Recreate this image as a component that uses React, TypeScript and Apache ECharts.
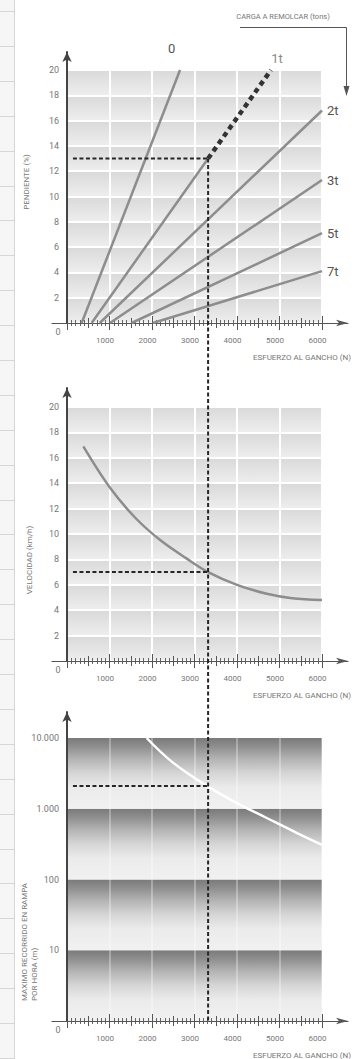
import React, { useEffect, useRef } from "react";
import * as echarts from "echarts";

// ---------- data ----------
const forceMax = 6000;
const gradeTicksMax = 20;
const speedTicksMax = 20;
const loadNames = ["0", "1t", "2t", "3t", "5t", "7t"];
const loadStartN = [345, 580, 770, 1010, 1520, 2020];
const loadEndN = [2660, 3320, 6000, 6000, 6000, 6000];
const loadEndGrade = [20, 13, 16.8, 11.3, 7.1, 4.1];
const ext1tN = [3320, 4800];
const ext1tGrade = [13, 20];
const speedN = [384, 1000, 1600, 2200, 2800, 3320, 4000, 4700, 5300, 6000];
const speedKmh = [16.9, 13.7, 11.3, 9.5, 8.1, 7.0, 6.0, 5.3, 4.95, 4.8];
const distN = [1875, 2500, 3300, 4000, 4700, 5400, 6000];
const distM = [10000, 4450, 2090, 1200, 740, 457, 309];
const distDecades = [1, 10, 100, 1000, 10000];
const crossStartN = 140;
const crossN = 3320;
const crossGrade = 13;
const crossSpeed = 7;
const crossDist = 2100;

// ---------- layout ----------
const W = 362;
const H = 1059;
const PLOT_LEFT = 67;
const PLOT_RIGHT = 322;
const FRAME_LEFT = 52;
const FRAME_RIGHT = 348;
const PX_PER_N = (PLOT_RIGHT - PLOT_LEFT) / forceMax;
const charts = [
  { plotTop: 70, plotBottom: 323, frameTop: 52 },
  { plotTop: 407, plotBottom: 661, frameTop: 388 },
  { plotTop: 738, plotBottom: 1021, frameTop: 712 },
];

const FONT = "Roboto";
const TXT = "#777";
const LINE_GRAY = "#8d8d8d";
const DARK = "#262626";

function fmtDist(v: number) {
  if (v === 1) return "";
  return String(v).replace(/\B(?=(\d{3})+(?!\d))/g, ".");
}

export default function App() {
  const ref = useRef<HTMLDivElement>(null);
  useEffect(() => {
    if (!ref.current) return;
    const chart = echarts.init(ref.current, undefined, { renderer: "svg" });

    const grid: any[] = [];
    const xAxis: any[] = [];
    const yAxis: any[] = [];
    charts.forEach((c, i) => {
      grid.push({
        left: PLOT_LEFT,
        width: PLOT_RIGHT - PLOT_LEFT,
        top: c.plotTop,
        height: c.plotBottom - c.plotTop,
        containLabel: false,
      });
      grid.push({
        left: FRAME_LEFT,
        width: FRAME_RIGHT - FRAME_LEFT,
        top: c.frameTop,
        height: c.plotBottom - c.frameTop,
        containLabel: false,
      });
      const pg = 2 * i;
      const fg = 2 * i + 1;
      const isLog = i === 2;
      const tickAxis = (interval: number, inside: boolean, len: number, minor: boolean, main: boolean) => ({
        type: "value",
        gridIndex: pg,
        position: "bottom",
        min: 0,
        max: forceMax,
        interval,
        z: 3,
        axisLine: { show: false },
        axisTick: { show: true, inside, length: len, lineStyle: { color: "#555", width: 1 } },
        minorTick: { show: minor, splitNumber: 10, length: 3, lineStyle: { color: "#666", width: 1 } },
        axisLabel: main
          ? {
              show: true,
              margin: 13,
              fontSize: 8,
              color: TXT,
              fontFamily: FONT,
              padding: [0, 9, 0, 0],
              formatter: (v: number) => (v === 0 ? "" : String(v)),
            }
          : { show: false },
        splitLine: main
          ? { show: true, lineStyle: { color: isLog ? "rgba(255,255,255,0.3)" : "#ffffff", width: 2 } }
          : { show: false },
      });
      xAxis.push(tickAxis(1000, false, 7, true, true));
      xAxis.push(tickAxis(1000, true, 7, true, false));
      xAxis.push(tickAxis(500, false, 5, false, false));
      xAxis.push(tickAxis(500, true, 5, false, false));
      xAxis.push({
        type: "value",
        gridIndex: fg,
        min: -(PLOT_LEFT - FRAME_LEFT) / PX_PER_N,
        max: (FRAME_RIGHT - PLOT_LEFT) / PX_PER_N,
        z: 4,
        axisLine: {
          show: true,
          onZero: true,
          symbol: ["none", "arrow"],
          symbolSize: [5, 12],
          lineStyle: { color: "#555", width: 1.2 },
        },
        axisTick: { show: false },
        axisLabel: { show: false },
        splitLine: { show: false },
      });
      if (isLog) {
        yAxis.push({
          type: "log",
          logBase: 10,
          gridIndex: pg,
          min: 1,
          max: 10000,
          z: 3,
          axisLine: { show: false },
          axisTick: { show: false },
          splitLine: { show: false },
          axisLabel: { fontSize: 9, color: TXT, fontFamily: FONT, margin: 8, formatter: fmtDist },
        });
      } else {
        yAxis.push({
          type: "value",
          gridIndex: pg,
          min: 0,
          max: i === 0 ? gradeTicksMax : speedTicksMax,
          interval: 2,
          z: 3,
          axisLine: { show: false },
          axisTick: { show: false },
          splitLine: { show: true, lineStyle: { color: "#ffffff", width: 2 } },
          axisLabel: {
            fontSize: 9,
            color: TXT,
            fontFamily: FONT,
            margin: 8,
            formatter: (v: number) => (v === 0 ? "" : String(v)),
          },
        });
      }
      yAxis.push({
        type: "value",
        gridIndex: fg,
        min: 0,
        max: 1,
        z: 4,
        axisLine: {
          show: true,
          onZero: true,
          onZeroAxisIndex: 5 * i + 4,
          symbol: ["none", "arrow"],
          symbolSize: [7, 10],
          lineStyle: { color: "#444", width: 2 },
        },
        axisTick: { show: false },
        axisLabel: { show: false },
        splitLine: { show: false },
      });
    });

    const lightBand = new echarts.graphic.LinearGradient(0, 0, 0, 1, [
      { offset: 0, color: "#d9d9d9" },
      { offset: 1, color: "#eeeeee" },
    ]);
    const darkBand = new echarts.graphic.LinearGradient(0, 0, 0, 1, [
      { offset: 0, color: "#7a7a7a" },
      { offset: 0.12, color: "#8e8e8e" },
      { offset: 0.3, color: "#b4b4b4" },
      { offset: 0.5, color: "#d6d6d6" },
      { offset: 0.7, color: "#ebebeb" },
      { offset: 1, color: "#f1f1f1" },
    ]);

    const gradeBands: any[] = [];
    for (let v = 0; v < gradeTicksMax; v += 2) gradeBands.push([{ xAxis: 0, yAxis: v }, { xAxis: forceMax, yAxis: v + 2 }]);
    const speedBands: any[] = [];
    for (let v = 0; v < speedTicksMax; v += 2) speedBands.push([{ xAxis: 0, yAxis: v }, { xAxis: forceMax, yAxis: v + 2 }]);
    const distBands: any[] = [];
    for (let k = 0; k < distDecades.length - 1; k++)
      distBands.push([{ xAxis: 0, yAxis: distDecades[k] }, { xAxis: forceMax, yAxis: distDecades[k + 1] }]);

    const bandSeries = (i: number, bands: any[], color: any, y0: number) => ({
      type: "line",
      xAxisIndex: 5 * i,
      yAxisIndex: 2 * i,
      data: [[0, y0]],
      symbol: "none",
      lineStyle: { opacity: 0 },
      silent: true,
      z: 1,
      markArea: { silent: true, itemStyle: { color }, data: bands },
    });

    const dashCross = (i: number, y: number) => ({
      type: "line",
      xAxisIndex: 5 * i,
      yAxisIndex: 2 * i,
      data: [
        [crossStartN, y],
        [crossN, y],
      ],
      symbol: "none",
      z: 6,
      lineStyle: { color: DARK, width: 2, type: [4, 2.5] },
    });

    const series: any[] = [
      bandSeries(0, gradeBands, lightBand, 0),
      bandSeries(1, speedBands, lightBand, 0),
      bandSeries(2, distBands, darkBand, 1),
    ];

    const labelFont = { fontSize: 13, color: "#555555", fontFamily: FONT, textBorderWidth: 0 };
    loadNames.forEach((name, k) => {
      const endLabel =
        k === 0
          ? { show: true, offset: [-17, -22] }
          : { show: k !== 1, offset: [0, 0] };
      series.push({
        type: "line",
        name,
        xAxisIndex: 0,
        yAxisIndex: 0,
        symbol: "none",
        z: 5,
        color: "#555555",
        lineStyle: { color: LINE_GRAY, width: 2.5 },
        endLabel: { ...endLabel, formatter: name, distance: 5, ...labelFont },
        data: [
          [loadStartN[k], 0],
          [loadEndN[k], loadEndGrade[k]],
        ],
      });
    });
    series.push({
      type: "line",
      name: "1t ext",
      xAxisIndex: 0,
      yAxisIndex: 0,
      symbol: "none",
      z: 6,
      lineStyle: { color: "#333", width: 4.5, type: [5, 4] },
      data: [
        [ext1tN[0], ext1tGrade[0]],
        [ext1tN[1], ext1tGrade[1]],
      ],
    });
    series.push(dashCross(0, crossGrade));

    series.push({
      type: "line",
      xAxisIndex: 5,
      yAxisIndex: 2,
      symbol: "none",
      smooth: 0.35,
      z: 5,
      lineStyle: { color: LINE_GRAY, width: 2.5 },
      data: speedN.map((n, k) => [n, speedKmh[k]]),
    });
    series.push(dashCross(1, crossSpeed));

    series.push({
      type: "line",
      xAxisIndex: 10,
      yAxisIndex: 4,
      symbol: "none",
      smooth: 0.4,
      z: 5,
      lineStyle: { color: "#ffffff", width: 2.5 },
      data: distN.map((n, k) => [n, distM[k]]),
    });
    series.push(dashCross(2, crossDist));

    const txt = (text: string, x: number, y: number, extra: any = {}, rot = 0) => ({
      type: "text",
      x,
      y,
      rotation: rot,
      z: 10,
      style: { text, fill: TXT, fontSize: 8, fontFamily: FONT, align: "center", verticalAlign: "middle", ...extra },
    });

    const graphic: any[] = [
      { type: "rect", shape: { x: 0, y: 0, width: 14, height: H }, style: { fill: "#f6f6f6" }, z: 0 },
      { type: "line", shape: { x1: 14.5, y1: 0, x2: 14.5, y2: H }, style: { stroke: "#d6d6d6", lineWidth: 1 }, z: 1 },
    ];
    for (let y = 11; y < H; y += 34.9) {
      graphic.push({
        type: "line",
        shape: { x1: 0, y1: Math.round(y) + 0.5, x2: 14, y2: Math.round(y) + 0.5 },
        style: { stroke: "#d6d6d6", lineWidth: 1 },
        z: 1,
      });
    }
    graphic.push(txt("CARGA A REMOLCAR (tons)", 283, 16, { fontSize: 7.5 }));
    graphic.push({
      type: "polyline",
      shape: { points: [[240, 27.5], [346.5, 27.5], [346.5, 90]] },
      style: { stroke: "#555", lineWidth: 1, fill: "none" },
      z: 10,
    });
    graphic.push({
      type: "polygon",
      shape: { points: [[343.5, 86], [349.5, 86], [346.5, 96]] },
      style: { fill: "#555" },
      z: 10,
    });
    charts.forEach((c) => {
      graphic.push(txt("0", 58, c.plotBottom + 9, { fontSize: 9 }));
      graphic.push(txt("ESFUERZO AL GANCHO (N)", 351, c.plotBottom + 34, { align: "right" }));
    });
    graphic.push(txt("PENDIENTE (%)", 26, 182, {}, Math.PI / 2));
    graphic.push(txt("VELOCIDAD (km/h)", 29, 560, {}, Math.PI / 2));
    graphic.push(txt("MAXIMO RECORRIDO EN RAMPA", 24, 1001, { align: "left" }, Math.PI / 2));
    graphic.push(txt("POR HORA (m)", 34, 1001, { align: "left" }, Math.PI / 2));

    chart.setOption({
      animation: false,
      backgroundColor: "#ffffff",
      grid,
      xAxis,
      yAxis,
      series,
      graphic,
    });

    const vx = chart.convertToPixel({ xAxisIndex: 0 } as any, crossN) as number;
    const vTop = chart.convertToPixel({ yAxisIndex: 0 } as any, crossGrade) as number;
    const vBottom = chart.convertToPixel({ yAxisIndex: 4 } as any, 1) as number;
    const ex = chart.convertToPixel({ xAxisIndex: 0 } as any, ext1tN[1]) as number;
    const ey = chart.convertToPixel({ yAxisIndex: 0 } as any, ext1tGrade[1]) as number;
    chart.setOption({
      graphic: [
        {
          id: "vcross",
          type: "line",
          z: 20,
          shape: { x1: vx, y1: vTop, x2: vx, y2: vBottom },
          style: { stroke: DARK, lineWidth: 2, lineDash: [4, 2.5] },
        },
        {
          id: "label1t",
          type: "text",
          x: ex + 6,
          y: ey - 12,
          z: 20,
          style: { text: loadNames[1], fill: "#8a8a8a", fontSize: 13, fontFamily: FONT, align: "center", verticalAlign: "middle" },
        },
      ],
    });

    return () => chart.dispose();
  }, []);
  return <div ref={ref} style={{ position: "absolute", left: 0, top: 0, width: W, height: H }} />;
}
